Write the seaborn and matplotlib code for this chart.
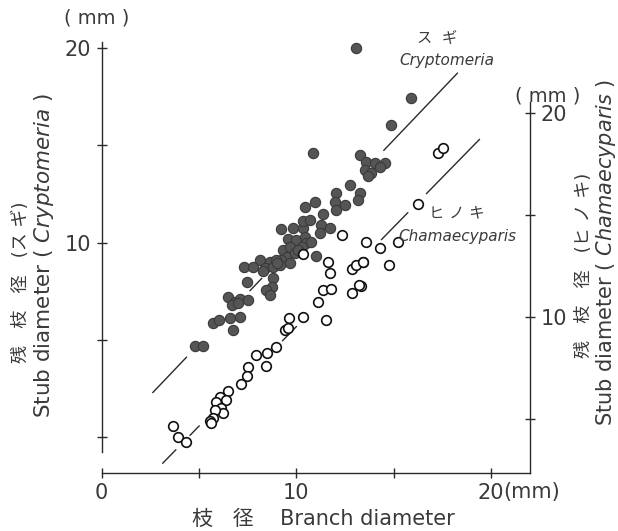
import numpy as np
import pandas as pd
import matplotlib
matplotlib.use("Agg")
import matplotlib.pyplot as plt
import seaborn as sns

# ---------------- data ----------------
# Cryptomeria (スギ) : branch diameter (mm) vs stub diameter (mm), left axis
sugi_x = [13.09, 15.91, 14.88, 10.86, 13.26, 13.60, 14.03, 14.54, 13.51, 13.86, 13.68, 14.28,
          12.74, 12.06, 13.26, 11.97, 12.49, 13.17, 12.06, 10.44, 10.95, 11.37, 9.24, 9.84,
          10.35, 10.35, 10.69, 11.29, 11.72, 11.21, 9.58, 10.01, 10.44, 10.52, 10.78, 10.27,
          9.32, 9.67, 9.50, 9.24, 9.67, 11.00, 8.13, 8.64, 8.98, 8.38, 8.81, 9.15, 7.32, 7.79,
          7.45, 8.81, 8.73, 8.47, 8.64, 6.50, 6.85, 7.10, 7.53, 6.68, 7.02, 5.73, 6.04, 6.59,
          7.10, 6.76, 4.79, 5.19, 9.95, 9.00, 8.30, 10.10]
sugi_y = [19.98, 17.45, 16.04, 14.59, 14.50, 14.15, 14.07, 14.10, 13.73, 13.56, 13.42, 13.88,
          12.96, 12.56, 12.56, 12.10, 11.93, 12.19, 11.67, 11.84, 12.10, 11.47, 10.68, 10.73,
          10.73, 11.12, 11.16, 10.90, 10.73, 10.47, 10.16, 10.13, 10.30, 9.96, 10.04, 9.78,
          9.61, 9.78, 9.27, 9.10, 8.93, 9.31, 9.10, 9.01, 9.10, 8.67, 8.76, 8.84, 8.72, 8.72,
          7.99, 8.16, 7.73, 7.56, 7.30, 7.21, 6.96, 7.08, 7.04, 6.79, 6.87, 5.88, 6.02, 6.10,
          6.19, 5.50, 4.68, 4.68, 9.45, 8.95, 8.55, 9.60]

# Chamaecyparis (ヒノキ) : right axis
hinoki_x = [17.27, 17.53, 16.25, 13.56, 14.28, 15.22, 13.43, 14.76, 13.34, 12.37, 10.35,
            11.63, 11.72, 12.88, 13.09, 13.43, 11.37, 11.77, 12.88, 13.22, 11.12, 11.51,
            10.35, 9.63, 9.41, 9.58, 7.92, 8.50, 8.95, 8.47, 7.53, 7.45, 7.14, 6.47, 6.08,
            6.38, 5.87, 6.13, 6.22, 5.82, 5.73, 5.56, 5.62, 3.68, 3.94, 4.33]
hinoki_y = [18.05, 18.27, 15.54, 13.69, 13.40, 13.69, 12.71, 12.55, 11.52, 14.02, 13.09,
            12.71, 12.14, 12.34, 12.55, 12.71, 11.32, 11.36, 11.19, 11.57, 10.75, 9.85,
            10.01, 9.97, 9.36, 9.45, 8.14, 8.25, 8.54, 7.60, 7.56, 7.11, 6.72, 6.37, 6.09,
            5.93, 5.84, 5.52, 5.28, 5.44, 5.03, 4.92, 4.82, 4.66, 4.10, 3.88]

# fitted lines: slope, intercept, and the x-ranges where the line is visible
sugi_fit = (1.05, -0.48)
sugi_segments = [(2.63, 4.37), (7.62, 8.23), (14.49, 18.28)]
hinoki_fit = (0.976, -0.235)
hinoki_segments = [(3.14, 3.82), (4.54, 5.02), (9.29, 10.01), (14.37, 15.73), (16.68, 19.41)]

x_ticks = [0, 5, 10, 15, 20]
x_ticklabels = ["0", "", "10", "", "20"]
left_ticks = [0, 5, 10, 15, 20]
left_ticklabels = ["", "", "10", "", "20"]
right_ticks = [5, 10, 15, 20]
right_ticklabels = ["", "10", "", "20"]

# ---------------- style ----------------
sns.set_style("ticks")
plt.rcParams['font.family'] = ['DejaVu Sans', 'Noto Sans CJK JP']
plt.rcParams['mathtext.fontset'] = 'dejavusans'

W, H = 618, 531
fig = plt.figure(figsize=(W / 100, H / 100), dpi=100)
fig.patch.set_facecolor("white")

def fx(px):
    return px / W

def fy(py):
    return 1 - py / H

ax = fig.add_axes([fx(101.5), fy(473), (530 - 101.5) / W, (473 - 42) / H])
ax.set_facecolor("none")
ax.set_xlim(0, 22)
ax.set_ylim(-1.851, 20.31)
ax2 = ax.twinx()
ax2.set_ylim(2.353, 23.48)

ink = "#2a2a2a"

# fitted line segments
for a0, a1 in sugi_segments:
    xs = np.array([a0, a1])
    ax.plot(xs, sugi_fit[0] * xs + sugi_fit[1], color=ink, lw=1.0, zorder=1)
for a0, a1 in hinoki_segments:
    xs = np.array([a0, a1])
    ax2.plot(xs, hinoki_fit[0] * xs + hinoki_fit[1], color=ink, lw=1.0, zorder=1)

sugi_df = pd.DataFrame({"branch": sugi_x, "stub": sugi_y})
hinoki_df = pd.DataFrame({"branch": hinoki_x, "stub": hinoki_y})

sns.scatterplot(data=sugi_df, x="branch", y="stub", ax=ax, s=55, color="#555555",
                edgecolor="#3a3a3a", linewidth=0.8, zorder=3, legend=False)
sns.scatterplot(data=hinoki_df, x="branch", y="stub", ax=ax2, s=48, color="white",
                edgecolor="#111111", linewidth=1.2, zorder=3, legend=False)

# spines
for s in ["top", "right"]:
    ax.spines[s].set_visible(False)
for s in ["top", "left", "bottom"]:
    ax2.spines[s].set_visible(False)
ax.spines["left"].set_bounds(-0.77, 20.31)
ax2.spines["right"].set_bounds(2.353, 20.54)
for sp in [ax.spines["left"], ax.spines["bottom"], ax2.spines["right"]]:
    sp.set_color(ink)
    sp.set_linewidth(1.0)

ax.set_xticks(x_ticks)
ax.set_xticklabels(x_ticklabels)
ax.set_yticks(left_ticks)
ax.set_yticklabels(left_ticklabels)
ax2.set_yticks(right_ticks)
ax2.set_yticklabels(right_ticklabels)
ax.tick_params(axis="both", direction="inout", length=7, width=1.0, colors=ink,
               labelsize=15, labelcolor="#3a3a3a", pad=4)
ax2.tick_params(axis="y", direction="inout", length=7, width=1.0, colors=ink,
                labelsize=15, labelcolor="#3a3a3a", pad=4)
ax.set_xlabel("")
ax.set_ylabel("")
ax2.set_ylabel("")

txt = dict(color="#3a3a3a")
# units
fig.text(fx(97), fy(18), "( mm )", ha="center", va="center", fontsize=14, **txt)
fig.text(fx(548), fy(96), "( mm )", ha="center", va="center", fontsize=14, **txt)
fig.text(fx(503), fy(492), "(mm)", ha="left", va="center", fontsize=15, **txt)

# axis titles
fig.text(fx(21), fy(282), "残   枝   径   (ス ギ)", rotation=90, ha="center", va="center",
         fontsize=13, **txt)
fig.text(fx(44), fy(255), r"Stub diameter ( $Cryptomeria$ )", rotation=90, ha="center",
         va="center", fontsize=15.5, **txt)
fig.text(fx(584), fy(265), "残   枝   径   (ヒ ノ キ)", rotation=90, ha="center", va="center",
         fontsize=13, **txt)
fig.text(fx(606), fy(252), r"Stub diameter ( $Chamaecyparis$ )", rotation=90, ha="center",
         va="center", fontsize=15, **txt)
fig.text(fx(323), fy(519), "枝   径    Branch diameter", ha="center", va="center",
         fontsize=15, **txt)

# species annotations
fig.text(fx(437), fy(38), "ス  ギ", ha="center", va="center", fontsize=11, **txt)
fig.text(fx(447), fy(61), "Cryptomeria", ha="center", va="center", fontsize=11,
         style="italic", **txt)
fig.text(fx(457), fy(213), "ヒ ノ キ", ha="center", va="center", fontsize=11, **txt)
fig.text(fx(457), fy(236), "Chamaecyparis", ha="center", va="center", fontsize=11,
         style="italic", **txt)

fig.savefig("out.png", dpi=100, facecolor="white")
